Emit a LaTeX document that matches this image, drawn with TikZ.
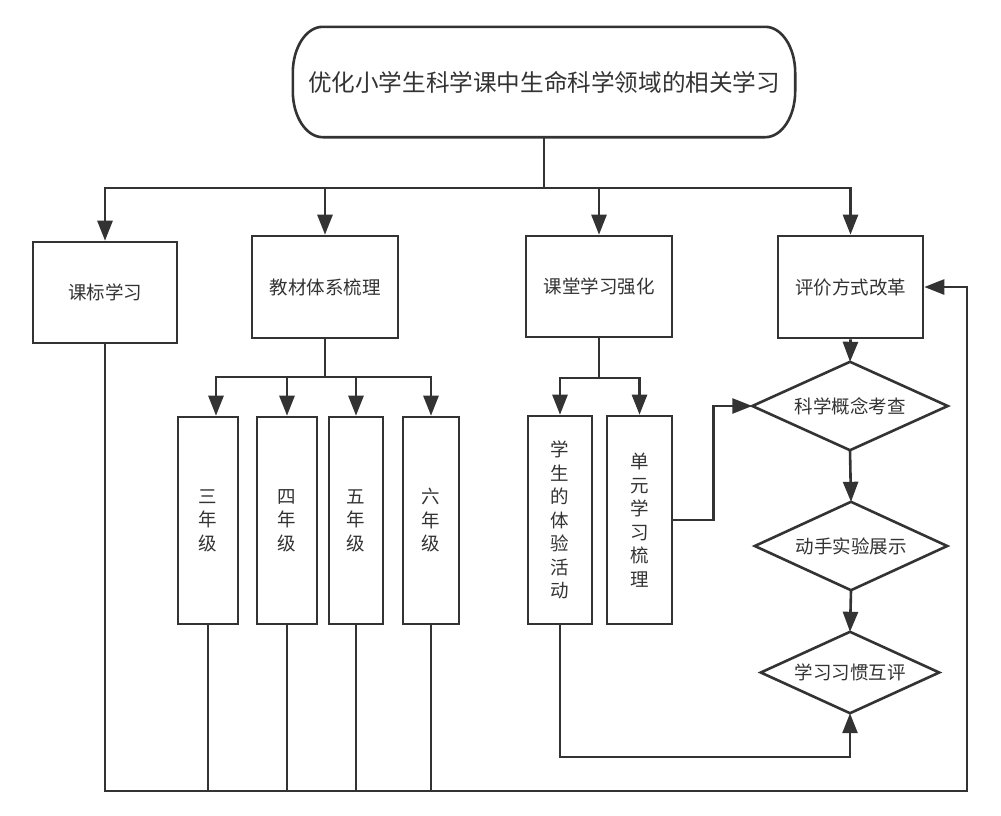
\documentclass[tikz,border=0pt]{standalone}
\usepackage{fontspec}
\newfontfamily\cjk{Noto Sans CJK SC}
\usetikzlibrary{arrows.meta,calc}
\definecolor{ink}{HTML}{333333}
\begin{document}
\begin{tikzpicture}[x=1pt,y=1pt,
  ln/.style={draw=ink,line width=2.6pt},
  arr/.style={ln,-{Triangle[length=20pt,width=15pt]}},
  box/.style={ln,rectangle,inner sep=0pt,text=ink,font=\cjk\fontsize{18.5}{23.5}\selectfont,align=center},
  ghost/.style={rectangle,inner sep=0pt,text=ink,font=\cjk\fontsize{18.5}{23.5}\selectfont,align=center},
  line join=miter]
\useasboundingbox[fill=white] (0,0) rectangle (1001,-815);

% top rounded box
\node[ghost,minimum width=502pt,minimum height=110pt,font=\cjk\fontsize{23.6}{28}\selectfont] (top) at (544,-82) {\raisebox{-3pt}{优化小学生科学课中生命科学领域的相关学习}};
\draw[ln] ($(top.north west)+(30,0)$) -- ($(top.north east)+(-30,0)$)
  arc[start angle=90,end angle=0,x radius=30pt,y radius=46pt]
  -- ($(top.south east)+(0,46)$)
  arc[start angle=0,end angle=-90,x radius=30pt,y radius=46pt]
  -- ($(top.south west)+(30,0)$)
  arc[start angle=270,end angle=180,x radius=30pt,y radius=46pt]
  -- ($(top.north west)+(0,-46)$)
  arc[start angle=180,end angle=90,x radius=30pt,y radius=46pt] -- cycle;

% second row
\node[box,minimum width=144pt,minimum height=101pt] (A) at (105,-292.5) {\raisebox{-3pt}{课标学习}};
\node[box,minimum width=146pt,minimum height=102pt] (B) at (325,-287) {教材体系梳理};
\node[box,minimum width=146pt,minimum height=101pt] (C) at (599,-286.5) {课堂学习强化};
\node[box,minimum width=145pt,minimum height=102pt] (D) at (850.5,-287) {评价方式改革};

% grade boxes
\node[box,minimum width=60pt,minimum height=207pt] (g1) at (208,-520.5) {三\\年\\级};
\node[box,minimum width=60pt,minimum height=207pt] (g2) at (287,-520.5) {四\\年\\级};
\node[box,minimum width=54pt,minimum height=207pt] (g3) at (356,-520.5) {五\\年\\级};
\node[box,minimum width=56pt,minimum height=207pt] (g4) at (431,-520.5) {六\\年\\级};

% classroom sub boxes
\node[box,minimum width=64pt,minimum height=208pt] (s1) at (560,-520) {学\\生\\的\\体\\验\\活\\动};
\node[box,minimum width=65pt,minimum height=208pt] (s2) at (639.5,-520) {单\\元\\学\\习\\梳\\理};

% diamonds
\node[ghost,minimum width=195pt,minimum height=88pt] (d1) at (850,-406) {科学概念考查};
\node[ghost,minimum width=192pt,minimum height=88pt] (d2) at (851,-546) {动手实验展示};
\node[ghost,minimum width=178pt,minimum height=81pt] (d3) at (850,-672.5) {学习习惯互评};
\foreach \d in {d1,d2,d3}
  \draw[ln] (\d.north) -- (\d.east) -- (\d.south) -- (\d.west) -- cycle;

% trunk
\coordinate (hub) at (544,-188);
\draw[ln] (top.south) -- (hub);
\draw[arr] (hub) -| (A.north);
\draw[arr] (hub) -| (B.north);
\draw[arr] (hub) -| (C.north);
\draw[arr] (hub) -| (D.north);

% grade branch
\coordinate (gb) at (325,-377);
\coordinate (g1in) at ($(g1.north)+(8,0)$);
\draw[ln] (B.south) -- (gb);
\draw[arr] (gb) -| (g1in);
\draw[arr] (gb) -| (g2.north);
\draw[arr] (gb) -| (g3.north);
\draw[arr] (gb) -| (g4.north);

% classroom branch
\coordinate (cb) at (599,-378);
\draw[ln] (C.south) -- (cb);
\draw[arr] (cb) -| (s1.north);
\draw[arr] (cb) -| (s2.north);

% evaluation chain
\draw[arr] (D.south) -- (d1.north);
\draw[arr] (d1.south) -- (d2.north);
\draw[arr] (d2.south) -- (d3.north);
\draw[arr] (s2.east) -- ++(40,0) |- (d1.west);
\coordinate (lp) at (850,-757);
\draw[arr] (s1.south) |- (lp) -- (d3.south);

% bottom feedback bus
\coordinate (br) at (967,-791);
\draw[arr] (A.south) |- (br) -- (br |- D.east) -- (D.east);
\foreach \g in {g1,g2,g3,g4}
  \draw[ln] (\g.south) -- (\g.south |- br);
\end{tikzpicture}
\end{document}
